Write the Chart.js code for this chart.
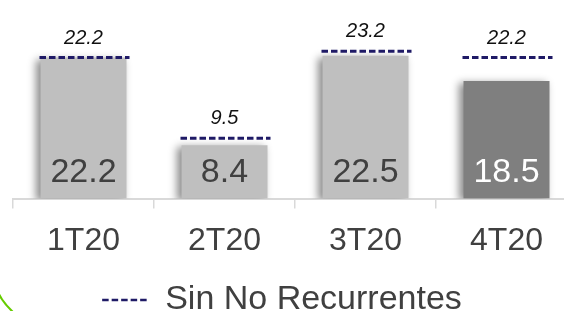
<!DOCTYPE html>
<html>
<head>
<meta charset="utf-8">
<script src="https://cdn.jsdelivr.net/npm/chart.js@4.4.1/dist/chart.umd.min.js"></script>
<style>
  html, body { margin: 0; padding: 0; overflow: hidden; background: #fff; }
  /* plot runs past the right edge in the original, so the canvas is a bit wider */
  #wrap { position: relative; width: 590px; height: 311px; margin-left: -13px; }
</style>
</head>
<body>
<div id="wrap"><canvas id="chart"></canvas></div>
<script>
const quarters = ['1T20', '2T20', '3T20', '4T20'];
const reportado = [22.2, 8.4, 22.5, 18.5];
const sinNoRecurrentes = [22.2, 9.5, 23.2, 22.2];
const barColors = ['#BFBFBF', '#BFBFBF', '#BFBFBF', '#7F7F7F'];
const barTextColors = ['#404040', '#404040', '#404040', '#FFFFFF'];

const NAVY = '#1F1A66';
const DASH = [6.5, 3];
const FONT = "'Liberation Sans', Arial, sans-serif";

// soft shadow behind the bars
const barShadow = {
    id: 'barShadow',
    beforeDatasetDraw(chart, args) {
        if (args.index !== 0) return;
        const ctx = chart.ctx;
        ctx.save();
        ctx.shadowColor = 'rgba(0,0,0,0.45)';
        ctx.shadowBlur = 8;
        ctx.shadowOffsetX = -4;
        ctx.shadowOffsetY = 2;
    },
    afterDatasetDraw(chart, args) {
        if (args.index !== 0) return;
        chart.ctx.restore();
    }
};

// value labels in bars + dashed markers with their labels
const labelsPlugin = {
    id: 'labelsPlugin',
    afterDatasetsDraw(chart) {
        const ctx = chart.ctx;
        const barMeta = chart.getDatasetMeta(0);
        const sinMeta = chart.getDatasetMeta(1);
        const base = chart.scales.y.getPixelForValue(0);

        ctx.save();
        ctx.textAlign = 'center';
        ctx.textBaseline = 'alphabetic';
        ctx.font = '34px ' + FONT;
        barMeta.data.forEach((bar, i) => {
            ctx.fillStyle = barTextColors[i];
            ctx.fillText(reportado[i].toFixed(1), bar.x, base - 17);
        });

        sinMeta.data.forEach((pt, i) => {
            const half = barMeta.data[i].width / 2 + 2;
            ctx.beginPath();
            ctx.setLineDash(DASH);
            ctx.lineWidth = 3;
            ctx.strokeStyle = NAVY;
            ctx.moveTo(pt.x - half + 1, pt.y);
            ctx.lineTo(pt.x + half + 1, pt.y);
            ctx.stroke();
            ctx.setLineDash([]);
            ctx.fillStyle = '#111111';
            ctx.font = 'italic 20px ' + FONT;
            ctx.fillText(sinNoRecurrentes[i].toFixed(1), pt.x, pt.y - 14);
        });
        ctx.restore();
    },
    afterDraw(chart) {
        // green curve peeking in at the bottom-left corner
        const ctx = chart.ctx;
        ctx.save();
        ctx.beginPath();
        ctx.strokeStyle = '#66CC00';
        ctx.lineWidth = 2;
        ctx.arc(73, 260, 70, 120 * Math.PI / 180, 160 * Math.PI / 180);
        ctx.stroke();
        ctx.restore();
    }
};

new Chart(document.getElementById('chart'), {
    data: {
        labels: quarters,
        datasets: [
            {
                type: 'bar',
                label: 'Reportado',
                data: reportado,
                backgroundColor: barColors,
                borderWidth: 0,
                categoryPercentage: 1,
                barPercentage: 0.61
            },
            {
                type: 'line',
                label: 'Sin No Recurrentes',
                data: sinNoRecurrentes,
                showLine: false,
                pointRadius: 0,
                pointHoverRadius: 0,
                pointStyle: 'line',
                borderColor: NAVY,
                backgroundColor: NAVY,
                borderWidth: 2.5,
                borderDash: DASH
            }
        ]
    },
    options: {
        responsive: true,
        maintainAspectRatio: false,
        animation: false,
        layout: { padding: { top: 8, bottom: -16 } },
        scales: {
            x: {
                grid: {
                    display: true,
                    drawOnChartArea: false,
                    drawTicks: true,
                    tickLength: 10,
                    color: '#D9D9D9',
                    lineWidth: 1.5
                },
                border: { display: true, color: '#D9D9D9', width: 2 },
                ticks: {
                    color: '#404040',
                    padding: 13,
                    font: { family: FONT, size: 32 }
                }
            },
            y: {
                min: 0,
                max: 30,
                ticks: { display: false },
                grid: { display: false },
                border: { display: false },
                afterFit(scale) { scale.width = 26; }
            }
        },
        plugins: {
            legend: {
                position: 'bottom',
                labels: {
                    filter: item => item.datasetIndex === 1,
                    generateLabels(chart) {
                        const items = Chart.defaults.plugins.legend.labels.generateLabels(chart);
                        items.forEach(it => {
                            const ds = chart.data.datasets[it.datasetIndex];
                            if (ds.borderDash) it.lineDash = ds.borderDash;
                        });
                        return items;
                    },
                    usePointStyle: true,
                    pointStyleWidth: 46,
                    padding: 10,
                    color: '#404040',
                    font: { family: FONT, size: 34 }
                }
            },
            tooltip: { enabled: false }
        }
    },
    plugins: [barShadow, labelsPlugin]
});
</script>
</body>
</html>
